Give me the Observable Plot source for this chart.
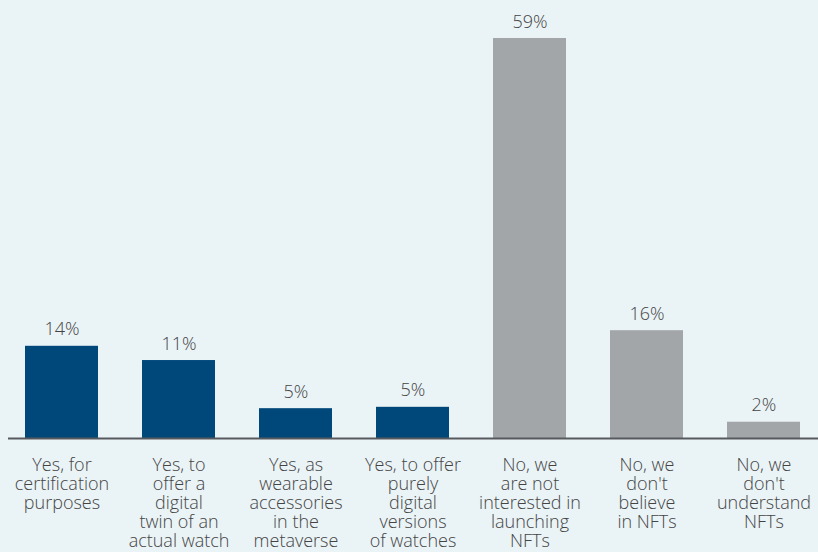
<!DOCTYPE html>
<html>
<head>
<meta charset="utf-8">
<script src="https://cdn.jsdelivr.net/npm/d3@7"></script>
<script src="https://cdn.jsdelivr.net/npm/@observablehq/plot@0.6"></script>
<style>
  html, body { margin: 0; padding: 0; background: #eaf3f6; }
  #chart svg { display: block; }
</style>
</head>
<body>
<div id="chart"></div>
<script>
const categories = [
  "Yes, for\ncertification\npurposes",
  "Yes, to\noffer a\ndigital\ntwin of an\nactual watch",
  "Yes, as\nwearable\naccessories\nin the\nmetaverse",
  "Yes, to offer\npurely\ndigital\nversions\nof watches",
  "No, we\nare not\ninterested in\nlaunching\nNFTs",
  "No, we\ndon't\nbelieve\nin NFTs",
  "No, we\ndon't\nunderstand\nNFTs"
];
const values = [13.6, 11.5, 4.4, 4.6, 59, 15.9, 2.4];
const valueLabels = ["14%", "11%", "5%", "5%", "59%", "16%", "2%"];
const groups = ["yes", "yes", "yes", "yes", "no", "no", "no"];

const data = categories.map((c, i) => ({cat: c, value: values[i], label: valueLabels[i], group: groups[i]}));

const chart = Plot.plot({
  width: 818,
  height: 552,
  marginLeft: 8,
  marginRight: 0,
  marginTop: 0,
  marginBottom: 0,
  style: {background: "#eaf3f6", fontFamily: "'Open Sans', sans-serif", color: "#4d4d4d"},
  x: {domain: categories, range: [3, 822], paddingInner: 0.376, paddingOuter: 0.188, axis: null},
  y: {domain: [0, 59], range: [438, 38], axis: null},
  color: {domain: ["yes", "no"], range: ["#00487a", "#a3a6a9"]},
  marks: [
    Plot.barY(data, {x: "cat", y: "value", fill: "group"}),
    Plot.ruleY([0], {stroke: "#565a5e", strokeWidth: 2}),
    Plot.text(data, {x: "cat", y: "value", text: "label", lineAnchor: "bottom", dy: -11, fontSize: 18, fontWeight: 300, fill: "#444"}),
    Plot.text(data, {x: "cat", y: () => 0, text: "cat", lineAnchor: "top", dy: 19, fontSize: 18, fontWeight: 300, lineHeight: 1.06, fill: "#444", textOverflow: null})
  ]
});
document.getElementById("chart").appendChild(chart);
</script>
</body>
</html>
